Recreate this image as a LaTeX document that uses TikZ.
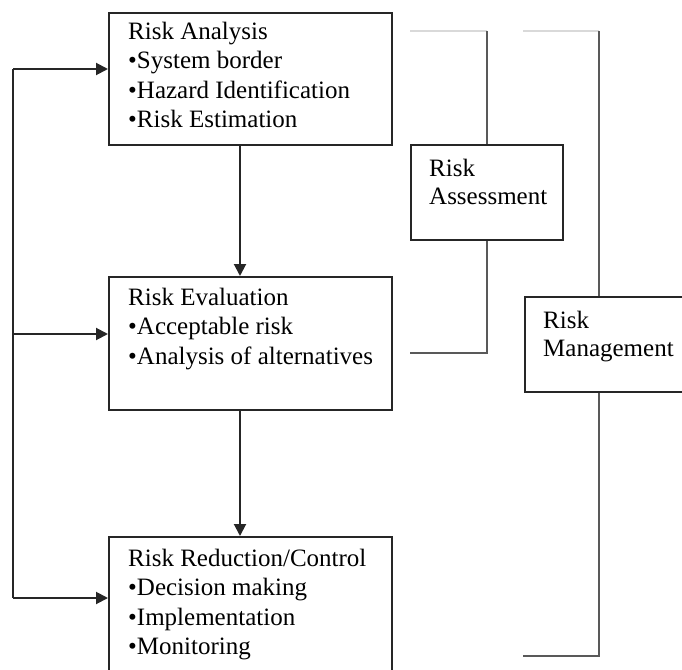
\documentclass[tikz,border=0pt]{standalone}
\usepackage{fontspec}
\setmainfont{Liberation Serif}
\usetikzlibrary{arrows.meta,calc}
\begin{document}
\begin{tikzpicture}[x=1pt,y=-1pt,
 box/.style={draw=black!85, line width=2pt, anchor=north west, inner sep=0pt},
 txt/.style={anchor=base west, align=left, inner sep=0pt, font=\fontsize{25}{29.5}\selectfont},
 sidetxt/.style={anchor=base west, align=left, inner sep=0pt, font=\fontsize{25}{28}\selectfont},
 conn/.style={draw=black!85, line width=2pt},
 arr/.style={conn, -{Triangle[length=12pt,width=12pt]}},
 brk/.style={draw=black!65, line width=2.4pt},
 brktop/.style={draw=black!15, line width=2.4pt}]
\useasboundingbox (0,0) rectangle (682,669);
\begin{scope}
\clip (0,0) rectangle (682,669);
% main boxes
\node[box, minimum width=283pt, minimum height=132pt] (ra) at (108,12) {};
\node[box, minimum width=283pt, minimum height=133pt] (re) at (108,276) {};
\node[box, minimum width=283pt, minimum height=160pt] (rr) at (108,536) {};
% text nodes: base anchor is the baseline of the last line
\node[txt] (rat) at (128,127.5) {Risk Analysis\\•System border\\•Hazard Identification\\•Risk Estimation};
\node[txt] (ret) at (128,364) {Risk Evaluation\\•Acceptable risk\\•Analysis of alternatives};
\node[txt] (rrt) at (128,654.5) {Risk Reduction/Control\\•Decision making\\•Implementation\\•Monitoring};
% side boxes
\node[box, minimum width=152pt, minimum height=95pt] (ras) at (410,144) {};
\node[sidetxt] (rast) at (429,204) {Risk\\Assessment};
\node[box, minimum width=200pt, minimum height=95pt] (rm) at (524,296) {};
\node[sidetxt] (rmt) at (543,356) {Risk\\Management};
% vertical arrows
\draw[arr] ($(ra.south west)+(132,0)$) -- ($(re.north west)+(132,0)$);
\draw[arr] ($(re.south west)+(132,0)$) -- ($(rr.north west)+(132,0)$);
% feedback loop
\coordinate (f1) at (13,69);
\coordinate (f2) at (13,334);
\coordinate (f3) at (13,598);
\draw[conn] (f1) -- (f3);
\draw[arr] (f1) -- (f1 -| ra.west);
\draw[arr] (f2) -- (f2 -| re.west);
\draw[arr] (f3) -- (f3 -| rr.west);
% assessment bracket
\coordinate (at0) at (410,31);
\coordinate (at1) at (487,31);
\coordinate (ab1) at (487,353);
\coordinate (ab0) at (410,353);
\draw[brktop] (at0) -- (at1);
\draw[brk] (at1) -- (at1 |- ras.north);
\draw[brk] (at1 |- ras.south) -- (ab1) -- (ab0);
% management bracket
\coordinate (mt0) at (523,31);
\coordinate (mt1) at (599,31);
\coordinate (mb1) at (599,656);
\coordinate (mb0) at (523,656);
\draw[brktop] (mt0) -- (mt1);
\draw[brk] (mt1) -- (mt1 |- rm.north);
\draw[brk] (mt1 |- rm.south) -- (mb1) -- (mb0);
\end{scope}
\end{tikzpicture}
\end{document}
